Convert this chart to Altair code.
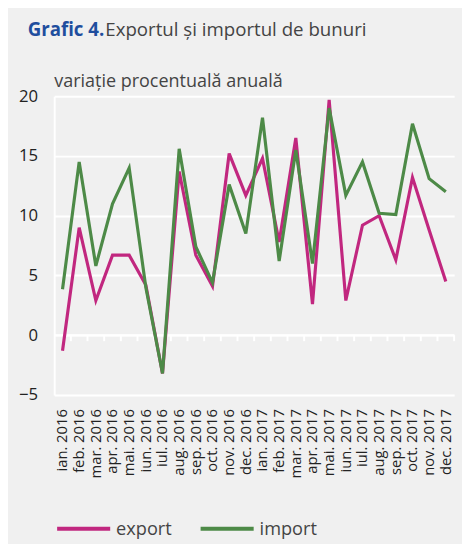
import altair as alt
import pandas as pd

months = ["ian. 2016", "feb. 2016", "mar. 2016", "apr. 2016", "mai. 2016", "iun. 2016",
          "iul. 2016", "aug. 2016", "sep. 2016", "oct. 2016", "nov. 2016", "dec. 2016",
          "ian. 2017", "feb. 2017", "mar. 2017", "apr. 2017", "mai. 2017", "iun. 2017",
          "iul. 2017", "aug. 2017", "sep. 2017", "oct. 2017", "nov. 2017", "dec. 2017"]
export_vals = [-1.3, 9.0, 2.9, 6.7, 6.7, 4.2, -3.2, 13.7, 6.7, 4.1, 15.2, 11.7,
               14.8, 7.8, 16.5, 2.6, 19.7, 2.9, 9.2, 10.0, 6.3, 13.2, 8.8, 4.5]
import_vals = [3.85, 14.5, 5.8, 11.0, 14.0, 4.0, -3.2, 15.6, 7.4, 4.4, 12.6, 8.5,
               18.2, 6.2, 15.5, 6.0, 19.0, 11.7, 14.5, 10.2, 10.1, 17.7, 13.1, 12.0]
series = ["export", "import"]
colors = ["#c1277f", "#4d8a47"]

title_bold = "Grafic 4."
title_rest = "Exportul și importul de bunuri"
y_title = "variație procentuală anuală"

rows = []
for i, m in enumerate(months):
    rows.append({"luna": m, "serie": "export", "val": export_vals[i]})
    rows.append({"luna": m, "serie": "import", "val": import_vals[i]})
df = pd.DataFrame(rows)
ticks_df = pd.DataFrame({"luna": months})
one = pd.DataFrame({"k": [0]})

FONT = "Open Sans"
BG = "#f0f0f0"

xscale = alt.Scale(type="band", domain=months, paddingInner=0, paddingOuter=0)
yscale = alt.Scale(domain=[-5, 20], nice=False)

lines = alt.Chart(df).mark_line(strokeWidth=3.2, clip=False).encode(
    x=alt.X("luna:N", scale=xscale, sort=months, title=None,
            axis=alt.Axis(labelAngle=270, labelAlign="right", labelBaseline="middle",
                          labelPadding=14, ticks=False, domain=False, grid=False,
                          labelFont=FONT, labelFontSize=15, labelColor="#222222")),
    y=alt.Y("val:Q", scale=yscale, title=None,
            axis=alt.Axis(values=[-5, 0, 5, 10, 15, 20], grid=True, gridColor="white",
                          gridWidth=2, ticks=False, domain=True, domainColor="white",
                          domainWidth=2, labelPadding=17, labelFont=FONT,
                          labelFontSize=17, labelColor="#222222")),
    color=alt.Color("serie:N", scale=alt.Scale(domain=series, range=colors),
                    legend=alt.Legend(orient="none", legendX=1, legendY=411,
                                      direction="horizontal", title=None,
                                      symbolType="stroke", symbolSize=2916,
                                      symbolStrokeWidth=4, labelFont=FONT,
                                      labelFontSize=18.5, labelColor="#444444",
                                      labelOffset=4, columnPadding=21)),
)

zero_rule = alt.Chart(one).mark_rule(color="white", strokeWidth=2).encode(
    y=alt.datum(0, scale=yscale),
)

tick_marks = alt.Chart(ticks_df).mark_rule(color="white", strokeWidth=2).encode(
    x=alt.X("luna:N", scale=xscale, sort=months, bandPosition=1),
    y=alt.datum(0),
    y2=alt.datum(-0.5),
)

t1 = alt.Chart(one).mark_text(align="left", baseline="alphabetic", font=FONT,
                              fontSize=19, fontWeight="bold", color="#1f4e9e").encode(
    x=alt.value(-27), y=alt.value(-61), text=alt.datum(title_bold))
t2 = alt.Chart(one).mark_text(align="left", baseline="alphabetic", font=FONT,
                              fontSize=19, color="#444444").encode(
    x=alt.value(52), y=alt.value(-61), text=alt.datum(title_rest))
t3 = alt.Chart(one).mark_text(align="left", baseline="alphabetic", font=FONT,
                              fontSize=18.3, color="#444444").encode(
    x=alt.value(0), y=alt.value(-9), text=alt.datum(y_title))

chart = alt.layer(zero_rule, tick_marks, lines, t1, t2, t3).properties(
    width=407, height=304,
    autosize=alt.AutoSizeParams(type="none"),
    padding={"left": 47, "top": 85, "right": 8, "bottom": 150},
    background=BG,
).configure_view(stroke=None, fill=BG)

chart.save("out.html", embed_options={"renderer": "svg", "actions": False})
